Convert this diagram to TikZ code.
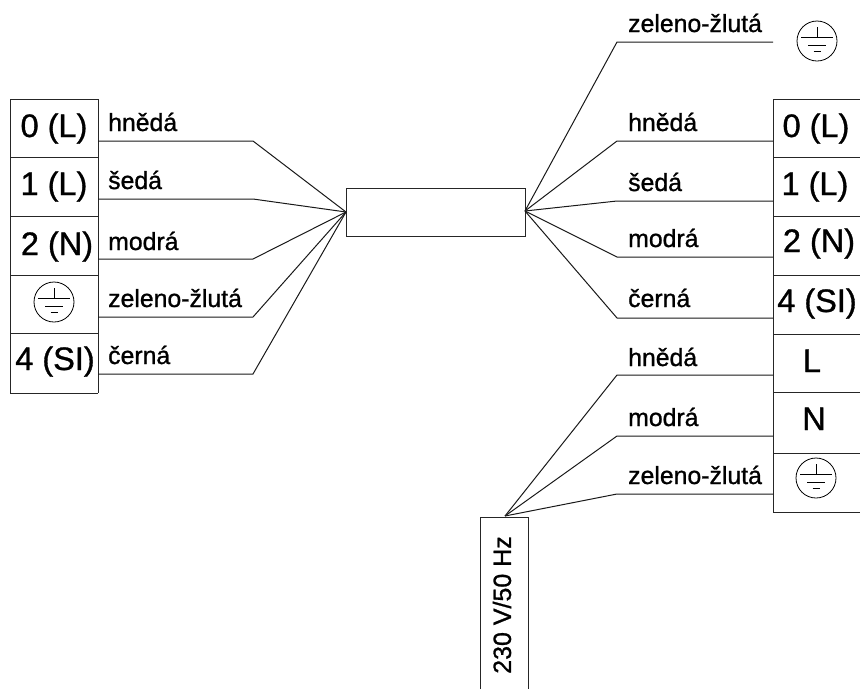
\documentclass[tikz,border=0pt]{standalone}
\usepackage{fontspec}
\setmainfont{Liberation Sans}
\newfontfamily\plainfont[FakeBold=1]{Liberation Sans}
\usetikzlibrary{positioning}
\tikzset{
    wire/.style={line width=1pt, black!90},
    frame/.style={line width=1pt, black!85},
    lab/.style={anchor=base west, inner sep=0pt, font=\plainfont\fontsize{24.8}{25}\selectfont},
    term/.style={anchor=base, inner sep=0pt, font=\plainfont\fontsize{32.5}{33}\selectfont},
    earth/.pic={
        \draw [line width=0.8pt] (0,0) circle (20);
        \draw [line width=0.9pt] (0,-14) -- (0,-4) (-16,-4) -- (16,-4) (-9,4) -- (9,4) (-3.5,10) -- (3.5,10);
    }
}
\begin{document}
\begin{tikzpicture}[x=1pt, y=-1pt]
    \useasboundingbox (0,0) rectangle (860,689);

    % Middle box
    \draw [frame] (346,188) rectangle (525,236);
    \coordinate (hubL) at (346,212);
    \coordinate (hubR) at (525,211);

    % Left block
    \draw [frame] (10,393) -- (10,99) -- (98,99) -- (98,393);
    \foreach \y in {157,216,275,333,393} {
        \draw [frame] (10,\y) -- (98,\y);
    }
    \foreach \i/\y/\lab/\base/\txt/\tx/\tb in {
        1/141/hnědá/131/0 (L)/54/137,
        2/199/šedá/189/1 (L)/54/195,
        3/259/modrá/250/2 (N)/57/255,
        4/317/zeleno-žlutá/307//54/0,
        5/374/černá/364/4 (SI)/55/370} {
        \coordinate (lw\i) at (98,\y);
        \coordinate (lb\i) at (253,\y);
        \draw [wire] (lw\i) -- (lb\i) -- (hubL);
        \node [lab] (ll\i) at (108,\base) {\lab};
        \node [term] (lt\i) at (\tx,\tb) {\txt};
    }
    \pic at (54,302) {earth};

    % Right block
    \draw [frame] (773,512) -- (773,99) -- (860,99);
    \foreach \y in {157,216,275,334,392,453,512} {
        \draw [frame] (773,\y) -- (860,\y);
    }
    \foreach \i/\y/\lab/\base/\txt/\tx/\tb in {
        1/141/hnědá/131/0 (L)/816/137,
        2/201/šedá/191/1 (L)/815/195,
        3/257/modrá/247/2 (N)/819/252,
        4/318/černá/307/4 (SI)/817/312} {
        \coordinate (rw\i) at (773,\y);
        \coordinate (rb\i) at (617,\y);
        \draw [wire] (rw\i) -- (rb\i) -- (hubR);
        \node [lab] (rl\i) at (628,\base) {\lab};
        \node [term] (rt\i) at (\tx,\tb) {\txt};
    }

    % Top earth wire
    \coordinate (rw0) at (773,42);
    \coordinate (rb0) at (617,42);
    \draw [wire] (rw0) -- (rb0) -- (hubR);
    \node [lab] (rl0) at (628,32) {zeleno-žlutá};
    \pic at (817,41) {earth};

    % Supply
    \draw [frame] (480,689) -- (480,517) -- (528,517) -- (528,689);
    \coordinate (hubP) at (505,516);
    \foreach \i/\y/\lab/\base in {1/375/hnědá/366, 2/436/modrá/426, 3/494/zeleno-žlutá/484} {
        \coordinate (pw\i) at (773,\y);
        \coordinate (pb\i) at (617,\y);
        \draw [wire] (pw\i) -- (pb\i) -- (hubP);
        \node [lab] (pl\i) at (628,\base) {\lab};
    }
    \node [term] (supL) at (812,372) {L};
    \node [term] (supN) at (814,430) {N};
    \pic at (816,478) {earth};
    \node [inner sep=0pt, rotate=90, font=\plainfont\fontsize{25}{25}\selectfont] (supply) at (502,605) {230 V/50 Hz};
\end{tikzpicture}
\end{document}
